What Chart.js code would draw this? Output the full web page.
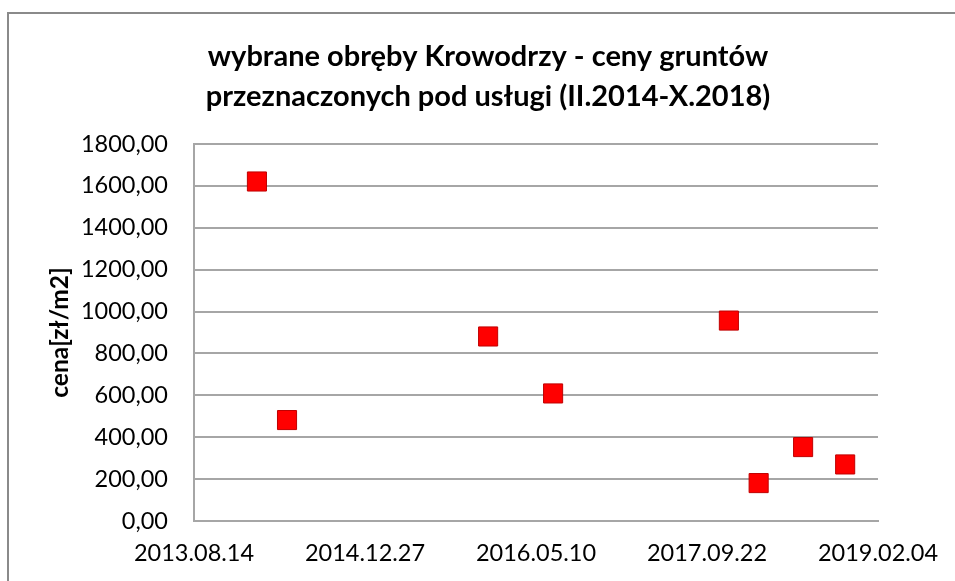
<!doctype html>
<html>
<head>
    <title>Krowodrza - ceny gruntow</title>
    <script src="https://cdn.jsdelivr.net/npm/chart.js@4.4.1/dist/chart.umd.min.js"></script>
    <style>
        body { margin: 0; background: #fff; }
        .wrap { position: relative; width: 955px; height: 581px; overflow: hidden; }
        .frame {
            position: absolute;
            left: 7px;
            top: 12px;
            width: 1000px;
            height: 700px;
            border-left: 2px solid #8a8a8a;
            border-top: 2px solid #8a8a8a;
            pointer-events: none;
        }
        canvas { position: absolute; left: 0; top: 0; }
    </style>
</head>
<body>
<div class="wrap">
    <canvas id="chart-area" width="955" height="581"></canvas>
    <div class="frame"></div>
</div>
<script>
    // dates of transactions and prices in zl/m2
    var dates = ['2014-02-14', '2014-05-13', '2015-12-22', '2016-06-29', '2017-11-25', '2018-02-20', '2018-06-30', '2018-10-31'];
    var prices = [1621, 482, 881, 609, 957, 181, 353, 270];

    var titleLines = ['wybrane obręby Krowodrzy - ceny gruntów', 'przeznaczonych pod usługi (II.2014-X.2018)'];
    var yTitle = 'cena[zł/m2]';

    // x axis: Excel style day numbers, 2013.08.14 .. 2019.02.04 every 500 days
    var xMin = 41500, xMax = 43500, xStep = 500;
    var yMin = 0, yMax = 1800, yStep = 200;

    var EPOCH = Date.UTC(1899, 11, 30);
    var DAY = 86400000;

    function toSerial(s) {
        var p = s.split('-');
        return (Date.UTC(+p[0], +p[1] - 1, +p[2]) - EPOCH) / DAY;
    }

    function fmtDate(v) {
        var d = new Date(EPOCH + Math.round(v) * DAY);
        var mm = ('0' + (d.getUTCMonth() + 1)).slice(-2);
        var dd = ('0' + d.getUTCDate()).slice(-2);
        return d.getUTCFullYear() + '.' + mm + '.' + dd;
    }

    var points = dates.map(function(d, i) {
        return { x: toSerial(d), y: prices[i] };
    });

    var font = 'Lato';
    var gridColor = '#a6a6a6';

    var config = {
        type: 'scatter',
        data: {
            datasets: [{
                data: points,
                pointStyle: 'rect',
                pointRadius: 13.5,
                pointHoverRadius: 13.5,
                backgroundColor: '#ff0000',
                borderColor: '#c00000',
                borderWidth: 1
            }]
        },
        options: {
            responsive: false,
            animation: false,
            layout: {
                // left/right differ so the title sits where Excel put it
                padding: { left: 21, right: 0, top: 0, bottom: 0 }
            },
            plugins: {
                legend: { display: false },
                tooltip: { enabled: false },
                title: {
                    display: true,
                    text: titleLines,
                    color: '#000',
                    font: { family: font, size: 29, weight: 'bold', lineHeight: 40 / 29 },
                    padding: { top: 37, bottom: 27 }
                }
            },
            scales: {
                x: {
                    type: 'linear',
                    min: xMin,
                    max: xMax,
                    afterFit: function(scale) {
                        scale.height = 60;
                        scale.paddingLeft = 0;
                        scale.paddingRight = 77;
                    },
                    afterBuildTicks: function(scale) {
                        var t = [];
                        for (var v = xMin; v <= xMax; v += xStep) t.push({ value: v });
                        scale.ticks = t;
                    },
                    grid: { display: false, drawTicks: false },
                    border: { display: true, color: gridColor, width: 2 },
                    ticks: {
                        padding: 18,
                        maxRotation: 0,
                        color: '#000',
                        font: { family: font, size: 23.5 },
                        callback: function(v) { return fmtDate(v); }
                    }
                },
                y: {
                    min: yMin,
                    max: yMax,
                    afterFit: function(scale) { scale.width = 173; },
                    ticks: {
                        stepSize: yStep,
                        padding: 26,
                        color: '#000',
                        font: { family: font, size: 23.5 },
                        callback: function(v) { return v.toFixed(2).replace('.', ','); }
                    },
                    grid: { color: gridColor, lineWidth: 2, drawTicks: false },
                    border: { display: true, color: gridColor, width: 2 },
                    title: {
                        display: true,
                        text: yTitle,
                        color: '#000',
                        font: { family: font, size: 24.5, weight: 'bold' },
                        padding: { top: 24, bottom: 0 }
                    }
                }
            }
        }
    };

    window.onload = function() {
        var ctx = document.getElementById('chart-area').getContext('2d');
        window.myScatter = new Chart(ctx, config);
    };
</script>
</body>
</html>
